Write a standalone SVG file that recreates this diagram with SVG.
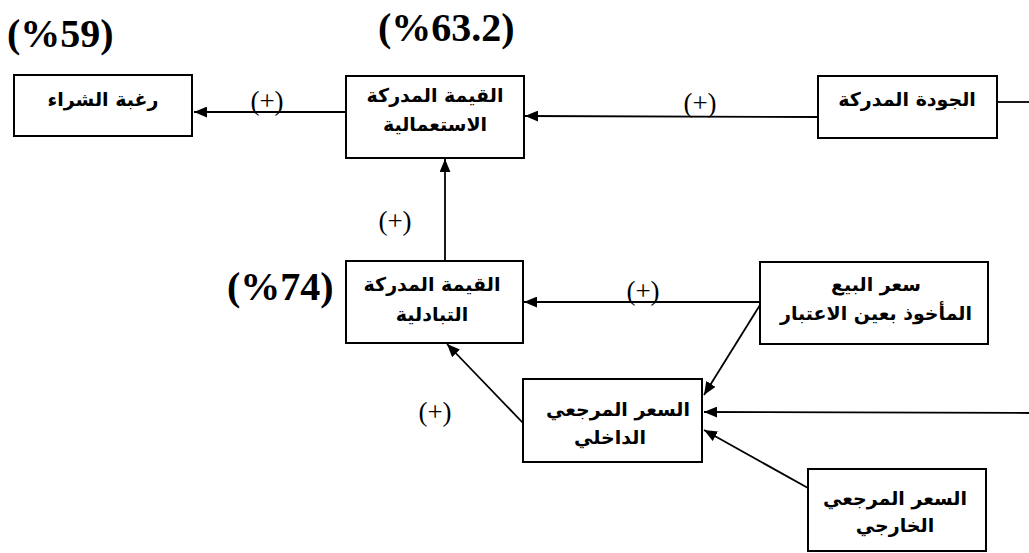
<svg xmlns="http://www.w3.org/2000/svg" width="1029" height="553" viewBox="0 0 1029 553">
<style>
.box{fill:#fff;stroke:#000;stroke-width:2}
.lbl{font-family:"DejaVu Sans",sans-serif;font-size:19px;font-weight:bold;text-anchor:middle;fill:#000}
.pct{font-family:"Liberation Serif",serif;font-size:40px;font-weight:bold;fill:#000}
.plus{font-family:"Liberation Serif",serif;font-size:27px;fill:#000;text-anchor:middle}
.con{stroke:#000;stroke-width:1.8;fill:none}
</style>
<defs>
<marker id="ah" viewBox="0 0 12 10" refX="12" refY="5" markerWidth="13" markerHeight="11" markerUnits="userSpaceOnUse" orient="auto">
<path d="M0,0 L12,5 L0,10 Z" fill="#000"/>
</marker>
</defs>
<rect width="1029" height="553" fill="#fff"/>
<g id="connectors">
<line class="con" x1="346" y1="112" x2="194" y2="112" marker-end="url(#ah)"/>
<line class="con" x1="818" y1="117" x2="525" y2="116" marker-end="url(#ah)"/>
<line class="con" x1="997" y1="102" x2="1029" y2="102"/>
<line class="con" x1="445" y1="261" x2="445" y2="159" marker-end="url(#ah)"/>
<line class="con" x1="760" y1="302" x2="524" y2="302" marker-end="url(#ah)"/>
<line class="con" x1="760" y1="305" x2="704" y2="395" marker-end="url(#ah)"/>
<line class="con" x1="1029" y1="413" x2="704" y2="412" marker-end="url(#ah)"/>
<line class="con" x1="808" y1="488" x2="704" y2="430" marker-end="url(#ah)"/>
<line class="con" x1="523" y1="423" x2="447" y2="344" marker-end="url(#ah)"/>
<text class="plus" x="267" y="110">(+)</text>
<text class="plus" x="700" y="112">(+)</text>
<text class="plus" x="395" y="230">(+)</text>
<text class="plus" x="643" y="300">(+)</text>
<text class="plus" x="435" y="421">(+)</text>
</g>
<g id="pct59"><text class="pct" x="7" y="47">(%59)</text></g>
<g id="pct632"><text class="pct" x="378" y="41">(%63.2)</text></g>
<g id="pct74"><text class="pct" x="227" y="300">(%74)</text></g>
<g id="n-purchase">
<rect class="box" x="14" y="75" width="178" height="61"/>
<text class="lbl" x="103" y="106" direction="rtl">رغبة الشراء</text>
</g>
<g id="n-usevalue">
<rect class="box" x="346" y="76" width="178" height="82"/>
<text class="lbl" x="435" y="102" direction="rtl">القيمة المدركة</text>
<text class="lbl" x="435" y="131" direction="rtl">الاستعمالية</text>
</g>
<g id="n-quality">
<rect class="box" x="818" y="76" width="179" height="62"/>
<text class="lbl" x="907" y="106" direction="rtl">الجودة المدركة</text>
</g>
<g id="n-exchvalue">
<rect class="box" x="346" y="261" width="177" height="82"/>
<text class="lbl" x="432" y="291" direction="rtl">القيمة المدركة</text>
<text class="lbl" x="432" y="321" direction="rtl">التبادلية</text>
</g>
<g id="n-saleprice">
<rect class="box" x="760" y="262" width="228" height="82"/>
<text class="lbl" x="876" y="291" direction="rtl">سعر البيع</text>
<text class="lbl" x="876" y="320" direction="rtl">المأخوذ بعين الاعتبار</text>
</g>
<g id="n-internal">
<rect class="box" x="523" y="379" width="179" height="83"/>
<text class="lbl" x="618" y="416" direction="rtl">السعر المرجعي</text>
<text class="lbl" x="610" y="444" direction="rtl">الداخلي</text>
</g>
<g id="n-external">
<rect class="box" x="808" y="469" width="178" height="82"/>
<text class="lbl" x="895" y="505" direction="rtl">السعر المرجعي</text>
<text class="lbl" x="895" y="532" direction="rtl">الخارجي</text>
</g>
</svg>
